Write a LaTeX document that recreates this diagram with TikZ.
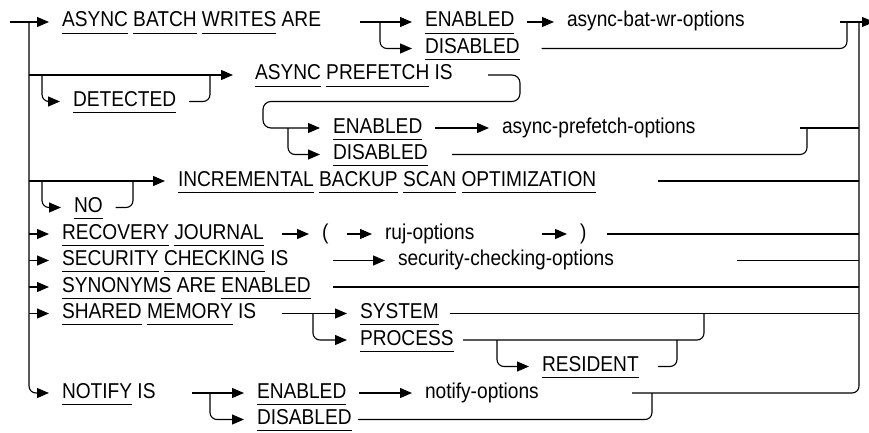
\documentclass[tikz,border=0pt]{standalone}
\usepackage{fontspec}
\setmainfont{Liberation Sans}[FakeStretch=0.89]
\usetikzlibrary{arrows.meta}
% keyword with its own underline
\newbox\kwbox
\newcommand\kw[1]{\setbox\kwbox=\hbox{#1}\leavevmode\rlap{\rule[-6.6pt]{\wd\kwbox}{0.9pt}}\box\kwbox}
\begin{document}
\begin{tikzpicture}[x=1pt,y=-1pt,
  line width=1.1pt,
  txt/.style={inner sep=0pt, outer xsep=13pt, text height=15pt, text depth=5pt,
              anchor=west, font=\fontsize{21.5}{24}\selectfont},
  arr/.style={-{Triangle[length=12pt,width=10pt]}},
  rc/.style={rounded corners=7pt}]
\useasboundingbox (0,0) rectangle (869,433);

% ---- text items
\node[txt] (t0)   at (49,22)    {\kw{ASYNC} \kw{BATCH} \kw{WRITES} ARE};
\node[txt] (en0)  at (412,22)   {\kw{ENABLED}};
\node[txt] (ds1)  at (412,48.5) {\kw{DISABLED}};
\node[txt] (abw)  at (554,22)   {async-bat-wr-options};
\node[txt] (det)  at (60,101.5) {\kw{DETECTED}};
\node[txt] (apf)  at (242,75)   {\kw{ASYNC} \kw{PREFETCH} IS};
\node[txt] (en4)  at (320,128)  {\kw{ENABLED}};
\node[txt] (ds5)  at (320,154.5){\kw{DISABLED}};
\node[txt] (apo)  at (489,128)  {async-prefetch-options};
\node[txt] (inc)  at (165,181)  {\kw{INCREMENTAL} \kw{BACKUP} \kw{SCAN} \kw{OPTIMIZATION}};
\node[txt] (nob)  at (61,207.5) {\kw{NO}};
\node[txt] (rec)  at (49,234)   {\kw{RECOVERY} \kw{JOURNAL}};
\node[txt] (lp)   at (309,234)  {(};
\node[txt] (ruj)  at (372,234)  {ruj-options};
\node[txt] (rp)   at (567,234)  {)};
\node[txt] (sec)  at (49,260.5) {\kw{SECURITY} \kw{CHECKING} IS};
\node[txt] (sco)  at (385,260.5){security-checking-options};
\node[txt] (syn)  at (49,287)   {\kw{SYNONYMS} ARE \kw{ENABLED}};
\node[txt] (sha)  at (49,313.5) {\kw{SHARED} \kw{MEMORY} IS};
\node[txt] (sys)  at (347,313.5){\kw{SYSTEM}};
\node[txt] (prc)  at (347,340)  {\kw{PROCESS}};
\node[txt] (res)  at (529,366.5){\kw{RESIDENT}};
\node[txt] (ntf)  at (49,393)   {\kw{NOTIFY} IS};
\node[txt] (en14) at (244,393)  {\kw{ENABLED}};
\node[txt] (ds15) at (244,419.5){\kw{DISABLED}};
\node[txt] (nop)  at (412,393)  {notify-options};

\coordinate (start) at (10,22);
\coordinate (finish) at (874,22);

% ---- left rail and its branches
\draw[arr] (start) -- (t0.west);
\draw[arr,rc] (29,22) -- (29,393) -- (ntf.west);
\draw[arr] (29,75) -- ([xshift=-9pt]apf.west);
\draw[arr,rc] (42,75) |- (det.west);
\draw[rc] (det.east) -| (210,75);
\draw[arr] (29,181) -- (inc.west);
\draw[arr,rc] (42,181) |- (nob.west);
\draw[rc] (nob.east) -| (133,181);
\draw[arr] (29,234) -- (rec.west);
\draw[arr] (29,260.5) -- (sec.west);
\draw[arr] (29,287) -- (syn.west);
\draw[arr] (29,313.5) -- (sha.west);

% ---- ASYNC BATCH WRITES
\draw[arr] (360,22) -- (en0.west);
\draw[arr,rc] (380,22) |- (ds1.west);
\draw[arr] (en0.east) -- (abw.west);
\draw[rc] ([xshift=9pt]ds1.east) -| (847,22);
\draw[arr] (840,22) -- (finish);

% ---- right rail
\draw[rc] (632,393) -| (859,22);

% ---- ASYNC PREFETCH
\draw[arr,rounded corners=8pt] (488,75) -| (520,101.5) -| (263,128) -- (en4.west);
\draw[arr,rc] (288,128) |- (ds5.west);
\draw[arr] (en4.east) -- (apo.west);
\draw (800,128) -- (859,128);
\draw[rc] (452,154.5) -| (807,128);

% ---- INCREMENTAL BACKUP SCAN OPTIMIZATION
\draw (658,181) -- (859,181);

% ---- RECOVERY JOURNAL
\draw[arr] (282,234) -- (lp.west);
\draw[arr] (347,234) -- (ruj.west);
\draw[arr] (542,234) -- (rp.west);
\draw (607,234) -- (859,234);

% ---- SECURITY CHECKING
\draw[arr] (333,260.5) -- (sco.west);
\draw (737,260.5) -- (859,260.5);

% ---- SYNONYMS
\draw (333,287) -- (859,287);

% ---- SHARED MEMORY
\draw[arr] (282,313.5) -- (sys.west);
\draw[arr,rc] (313,313.5) |- (prc.west);
\draw (450,313.5) -- (859,313.5);
\draw[rc] (463,340) -| (704,313.5);
\draw[arr,rc] (497,340) |- (res.west);
\draw[rc] (658,366.5) -| (677,340);

% ---- NOTIFY
\draw[arr] (192,393) -- (en14.west);
\draw[arr,rc] (210,393) |- (ds15.west);
\draw[arr] (en14.east) -- (nop.west);
\draw[rc] (358,419.5) -| (652,393);
\end{tikzpicture}
\end{document}
